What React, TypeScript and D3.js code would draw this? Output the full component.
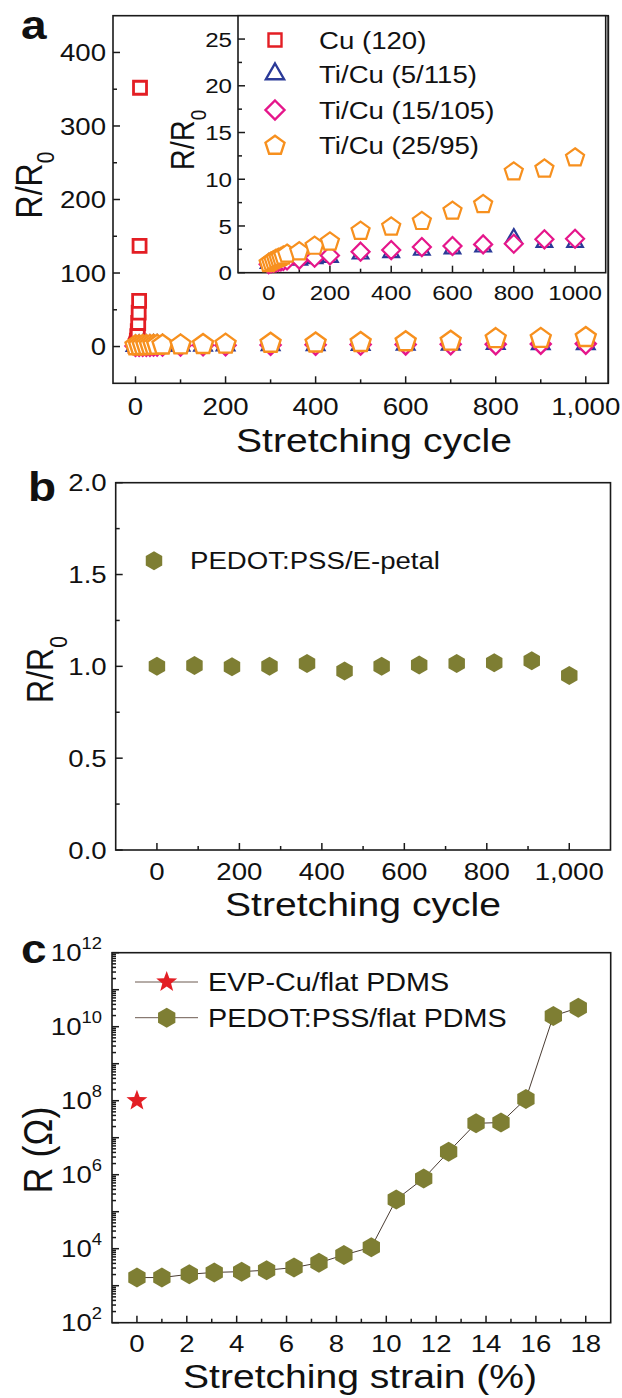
import React from "react";
import * as d3 from "d3";

// ---------- data ----------
// Panel a: cycles and R/R0 values
const cycA = [0, 8, 16, 24, 32, 40, 48, 60, 100, 150, 200, 300, 400, 500, 600, 700, 800, 900, 1000];
const ti5 = [1.0, 1.1, 1.2, 1.3, 1.35, 1.4, 1.45, 1.45, 1.35, 1.5, 1.65, 2.0, 2.15, 2.4, 2.55, 2.75, 3.7, 3.25, 3.25];
const ti15 = [0.9, 1.0, 1.05, 1.1, 1.15, 1.2, 1.25, 1.3, 1.4, 1.6, 1.85, 2.25, 2.42, 2.74, 2.85, 3.03, 3.1, 3.57, 3.64];
const ti25 = [1.0, 1.15, 1.3, 1.45, 1.55, 1.65, 1.8, 2.0, 2.25, 2.85, 3.3, 4.45, 4.9, 5.5, 6.6, 7.3, 10.8, 11.1, 12.3];
const cuCycles = [0, 1, 2, 3, 4, 5, 6, 7, 8, 9, 10];
const cuVals = [1, 2, 4, 8, 14, 21, 32, 46, 62, 137, 352];
const legendA = ["Cu (120)", "Ti/Cu (5/115)", "Ti/Cu (15/105)", "Ti/Cu (25/95)"];

// Panel b
const cycB = [0, 91, 182, 273, 364, 455, 545, 636, 727, 818, 909, 1000];
const valsB = [1.0, 1.004, 0.998, 1.0, 1.016, 0.975, 1.0, 1.007, 1.016, 1.02, 1.03, 0.95];
const legendB = "PEDOT:PSS/E-petal";

// Panel c
const strainC = [0, 1.0, 2.1, 3.1, 4.2, 5.2, 6.3, 7.3, 8.3, 9.4, 10.4, 11.5, 12.5, 13.6, 14.6, 15.6, 16.7, 17.7];
const rC = [1660, 1660, 2040, 2290, 2400, 2630, 3090, 4170, 6760, 10960, 2.14e5, 7.94e5, 4.17e6, 2.45e7, 2.57e7, 1.12e8, 1.95e10, 3.24e10];
const starStrain = [0];
const starR = [1e8];
const legendC = ["EVP-Cu/flat PDMS", "PEDOT:PSS/flat PDMS"];

// ---------- style ----------
const SX = 1.15;
const FONT = "'Liberation Sans', Arial, Helvetica, sans-serif";
const INK = "#1a1a1a";
const RED = "#E31E24";
const BLUE = "#2B3A98";
const MAG = "#E5168B";
const ORG = "#F7901E";
const OLIVE = "#7E7E33";

function Txt({ x, y, children, anchor = "start", size = 24, weight = "normal", rot = 0, dy = 0 }: any) {
  return (
    <text
      transform={`translate(${x},${y}) scale(${SX},1)${rot ? ` rotate(${rot})` : ""}`}
      textAnchor={anchor}
      fontSize={size}
      fontWeight={weight}
      fontFamily={FONT}
      fill="#111"
      dy={dy}
    >
      {children}
    </text>
  );
}

const sq = (s: number) => `M${-s / 2},${-s / 2}h${s}v${s}h${-s}Z`;
const tri = (r: number) => `M0,${-r}L${r * 0.866},${r * 0.5}L${-r * 0.866},${r * 0.5}Z`;
const dia = (r: number) => `M0,${-r}L${r},0L0,${r}L${-r},0Z`;
const poly = (n: number, r: number, start = -90) =>
  d3.range(n).map((k) => {
    const a = ((start + (360 / n) * k) * Math.PI) / 180;
    return `${k ? "L" : "M"}${(r * Math.cos(a)).toFixed(2)},${(r * Math.sin(a)).toFixed(2)}`;
  }).join("") + "Z";
const pent = (r: number) => poly(5, r);
const hex = (r: number) => poly(6, r);
const star = (R: number, ri: number) =>
  d3.range(10).map((k) => {
    const a = ((-90 + 36 * k) * Math.PI) / 180;
    const rr = k % 2 ? ri : R;
    return `${k ? "L" : "M"}${(rr * Math.cos(a)).toFixed(2)},${(rr * Math.sin(a)).toFixed(2)}`;
  }).join("") + "Z";

function Frame({ x, y, xMajor, xMinor, yMajor, yMinor, xFmt, yFmt, xLabY, yLabX, size, fill = "none", yLabel }: any) {
  const [x0, x1] = x.range();
  const [y0, y1] = y.range();
  return (
    <g>
      <rect x={x0} y={y1} width={x1 - x0} height={y0 - y1} fill={fill} stroke={INK} strokeWidth={1.6} />
      {xMajor.map((v: number) => (
        <line key={"xM" + v} x1={x(v)} x2={x(v)} y1={y0} y2={y0 - 7} stroke={INK} strokeWidth={1.5} />
      ))}
      {xMinor.map((v: number) => (
        <line key={"xm" + v} x1={x(v)} x2={x(v)} y1={y0} y2={y0 - 4} stroke={INK} strokeWidth={1.5} />
      ))}
      {yMajor.map((v: number) => (
        <line key={"yM" + v} x1={x0} x2={x0 + 7} y1={y(v)} y2={y(v)} stroke={INK} strokeWidth={1.5} />
      ))}
      {yMinor.map((v: number) => (
        <line key={"ym" + v} x1={x0} x2={x0 + 4} y1={y(v)} y2={y(v)} stroke={INK} strokeWidth={1.5} />
      ))}
      {xMajor.map((v: number) => (
        <Txt key={"xl" + v} x={x(v)} y={xLabY} anchor="middle" size={size}>{xFmt(v)}</Txt>
      ))}
      {yLabel !== false &&
        yMajor.map((v: number) => (
          <Txt key={"yl" + v} x={yLabX} y={y(v)} anchor="end" size={size} dy="0.36em">{yFmt(v)}</Txt>
        ))}
    </g>
  );
}

function Mk({ d, x, y, stroke, fill = "#fff", sw = 2.4 }: any) {
  return <path d={d} transform={`translate(${x},${y})`} fill={fill} stroke={stroke} strokeWidth={sw} strokeLinejoin="miter" />;
}

export default function App() {
  // panel a scales
  const xA = d3.scaleLinear().domain([-50, 1050]).range([113, 608.3]);
  const yA = d3.scaleLinear().domain([-50, 450]).range([383.3, 15.7]);
  const xI = d3.scaleLinear().domain([-100, 1100]).range([238, 605.7]);
  const yI = d3.scaleLinear().domain([0, 27.5]).range([272.7, 15.7]);
  // panel b
  const xB = d3.scaleLinear().domain([-100, 1100]).range([115.7, 610.5]);
  const yB = d3.scaleLinear().domain([0, 2]).range([850, 482.7]);
  // panel c
  const xC = d3.scaleLinear().domain([-1, 19]).range([112, 610.7]);
  const yC = d3.scaleLog().domain([1e2, 1e12]).range([1322.7, 952.7]);

  const fmtInt = (v: number) => d3.format(",")(v);
  const series = [
    { vals: ti5, d: tri(10), c: BLUE, di: tri(9) },
    { vals: ti15, d: dia(10), c: MAG, di: dia(9) },
    { vals: ti25, d: pent(10.5), c: ORG, di: pent(9.5) },
  ];
  const legendShapes = [sq(13), tri(10.5), dia(9.5), pent(10)];
  const legendColors = [RED, BLUE, MAG, ORG];
  const legendRows = [40, 74, 110, 145.7];

  const logMinor: number[] = [];
  for (let e = 2; e < 12; e++) for (let k = 2; k <= 9; k++) logMinor.push(k * Math.pow(10, e));
  const logMajor = d3.range(2, 13).map((e) => Math.pow(10, e));
  const lineC = d3.line<number>().x((_, i) => xC(strainC[i])).y((v) => yC(v));

  return (
    <svg width={622} height={1398} style={{ position: "absolute", left: 0, top: 0, background: "#fff" }}>
      <rect x={0} y={0} width={622} height={1398} fill="#fff" />

      {/* ---------------- panel a ---------------- */}
      <Txt x={21} y={39} size={40} weight="bold">a</Txt>
      <Frame
        x={xA} y={yA}
        xMajor={[0, 200, 400, 600, 800, 1000]} xMinor={[100, 300, 500, 700, 900]}
        yMajor={[0, 100, 200, 300, 400]} yMinor={[50, 150, 250, 350]}
        xFmt={fmtInt} yFmt={(v: number) => String(v)} xLabY={415} yLabX={106} size={24}
      />
      <Txt x={41.7} y={185} size={32} rot={-90} anchor="middle">
        R/R<tspan fontSize={21} dy={11}>0</tspan>
      </Txt>
      <Txt x={374} y={452} size={34} anchor="middle">Stretching cycle</Txt>

      {cuCycles.map((c, i) => (
        <Mk key={"cu" + i} d={sq(13)} x={xA(c)} y={yA(cuVals[i])} stroke={RED} sw={2.8} />
      ))}
      {series.map((s, si) =>
        cycA.map((c, i) => (
          <Mk key={"a" + si + "-" + i} d={s.d} x={xA(c)} y={yA(s.vals[i])} stroke={s.c} />
        ))
      )}

      {/* inset */}
      <Frame
        x={xI} y={yI}
        xMajor={[0, 200, 400, 600, 800, 1000]} xMinor={[100, 300, 500, 700, 900]}
        yMajor={[0, 5, 10, 15, 20, 25]} yMinor={[2.5, 7.5, 12.5, 17.5, 22.5]}
        xFmt={(v: number) => String(v)} yFmt={(v: number) => String(v)} xLabY={300} yLabX={232} size={21}
        fill="#fff"
      />
      <Txt x={194} y={140} size={29} rot={-90} anchor="middle">
        R/R<tspan fontSize={19} dy={10}>0</tspan>
      </Txt>
      {series.map((s, si) =>
        cycA.map((c, i) => (
          <Mk key={"i" + si + "-" + i} d={s.di} x={xI(c)} y={yI(s.vals[i])} stroke={s.c} sw={2.2} />
        ))
      )}
      {legendA.map((t, i) => (
        <g key={"la" + i}>
          <Mk d={legendShapes[i]} x={275} y={legendRows[i]} stroke={legendColors[i]} sw={2.4} />
          <Txt x={319} y={legendRows[i]} size={24} dy="0.36em">{t}</Txt>
        </g>
      ))}
      <line x1={608.3} x2={608.3} y1={15.7} y2={383.3} stroke={INK} strokeWidth={1.6} />

      {/* ---------------- panel b ---------------- */}
      <Txt x={28} y={501} size={40} weight="bold">b</Txt>
      <Frame
        x={xB} y={yB}
        xMajor={[0, 200, 400, 600, 800, 1000]} xMinor={[100, 300, 500, 700, 900]}
        yMajor={[0, 0.5, 1, 1.5, 2]} yMinor={[0.25, 0.75, 1.25, 1.75]}
        xFmt={fmtInt} yFmt={(v: number) => v.toFixed(1)} xLabY={880} yLabX={106.7} size={24}
      />
      <Txt x={53.3} y={669.5} size={32} rot={-90} anchor="middle">
        R/R<tspan fontSize={21} dy={12}>0</tspan>
      </Txt>
      <Txt x={363} y={916} size={34} anchor="middle">Stretching cycle</Txt>
      {cycB.map((c, i) => (
        <Mk key={"b" + i} d={hex(9.5)} x={xB(c)} y={yB(valsB[i])} stroke="none" fill={OLIVE} sw={0} />
      ))}
      <Mk d={hex(9.5)} x={154} y={560.7} stroke="none" fill={OLIVE} sw={0} />
      <Txt x={190} y={560.7} size={24} dy="0.36em">{legendB}</Txt>

      {/* ---------------- panel c ---------------- */}
      <Txt x={21} y={963} size={40} weight="bold">c</Txt>
      <Frame
        x={xC} y={yC}
        xMajor={[0, 2, 4, 6, 8, 10, 12, 14, 16, 18]} xMinor={[1, 3, 5, 7, 9, 11, 13, 15, 17]}
        yMajor={logMajor} yMinor={logMinor}
        xFmt={(v: number) => String(v)} yFmt={() => ""} xLabY={1352} yLabX={102} size={24}
        yLabel={false}
      />
      {[2, 4, 6, 8, 10, 12].map((e) => (
        <Txt key={"ce" + e} x={102} y={yC(Math.pow(10, e))} anchor="end" size={24} dy="0.36em">
          10<tspan fontSize={16} dy={-12}>{e}</tspan>
        </Txt>
      ))}
      <Txt x={52} y={1150} size={36} rot={-90} anchor="middle">R (Ω)</Txt>
      <Txt x={360} y={1388} size={34} anchor="middle">Stretching strain (%)</Txt>
      <path d={lineC(rC) || ""} fill="none" stroke="#4a3c33" strokeWidth={1} />
      {strainC.map((s, i) => (
        <Mk key={"c" + i} d={hex(10)} x={xC(s)} y={yC(rC[i])} stroke="none" fill={OLIVE} sw={0} />
      ))}
      {starStrain.map((s, i) => (
        <Mk key={"st" + i} d={star(11, 4.6)} x={xC(s)} y={yC(starR[i])} stroke="none" fill={RED} sw={0} />
      ))}
      {/* legend c */}
      <line x1={135} x2={198} y1={982} y2={982} stroke="#6d5a50" strokeWidth={1} />
      <Mk d={star(11, 4.6)} x={166.7} y={982} stroke="none" fill={RED} sw={0} />
      <Txt x={208} y={982} size={25} dy="0.36em">{legendC[0]}</Txt>
      <line x1={135} x2={198} y1={1017.7} y2={1017.7} stroke="#6d5a50" strokeWidth={1} />
      <Mk d={hex(10)} x={166.7} y={1017.7} stroke="none" fill={OLIVE} sw={0} />
      <Txt x={208} y={1017.7} size={25} dy="0.36em">{legendC[1]}</Txt>
    </svg>
  );
}
